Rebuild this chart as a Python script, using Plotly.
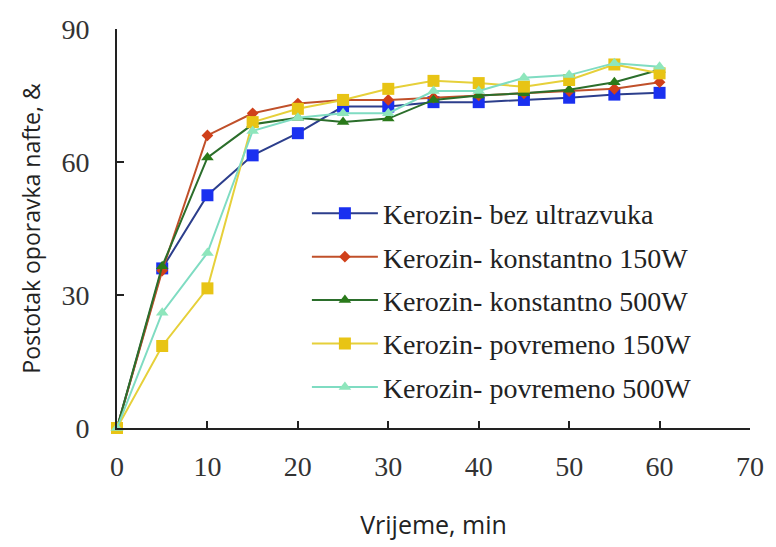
import plotly.graph_objects as go

time_min = [0, 5, 10, 15, 20, 25, 30, 35, 40, 45, 50, 55, 60]
bez_ultrazvuka = [0, 36, 52.5, 61.5, 66.5, 72.5, 72.5, 73.5, 73.5, 74, 74.5, 75.2, 75.6]
konstantno_150 = [0, 35.5, 66, 71, 73.2, 74, 74, 74.5, 75, 75.5, 76, 76.5, 78]
konstantno_500 = [0, 36.5, 61, 68.5, 70, 69, 69.8, 74, 75, 75.5, 76.3, 78, 80.8]
povremeno_150 = [0, 18.5, 31.5, 69, 72, 74, 76.5, 78.3, 77.8, 77, 78.5, 82, 80]
povremeno_500 = [0, 26, 39.5, 67, 70, 71, 71, 76, 76, 79, 79.6, 82.3, 81.5]

names = [
    "Kerozin- bez ultrazvuka",
    "Kerozin- konstantno 150W",
    "Kerozin- konstantno 500W",
    "Kerozin- povremeno 150W",
    "Kerozin- povremeno 500W",
]
x_ticks = [0, 10, 20, 30, 40, 50, 60, 70]
y_ticks = [0, 30, 60, 90]

series = [bez_ultrazvuka, konstantno_150, konstantno_500, povremeno_150, povremeno_500]
line_colors = ["#2c3e8c", "#c0502a", "#2b6e2b", "#e6d03a", "#7fdcc2"]
marker_colors = ["#1a30f0", "#d0401a", "#2a7a1a", "#e8c415", "#8ee6bc"]
symbols = ["square", "diamond", "triangle-up", "square", "triangle-up"]
sizes = [12, 9, 11, 12, 11]

fig = go.Figure()
for i, (ys, nm) in enumerate(zip(series, names)):
    fig.add_trace(go.Scatter(
        x=time_min, y=ys, name=nm, mode="lines+markers",
        line=dict(color=line_colors[i], width=2),
        marker=dict(color=marker_colors[i], symbol=symbols[i], size=sizes[i]),
        cliponaxis=False, legendgroup=str(i),
    ))

tick_font = dict(family="Liberation Serif", size=28, color="#333333")
fig.update_layout(
    width=776, height=547,
    margin=dict(l=117, r=15, t=29, b=112),
    paper_bgcolor="white", plot_bgcolor="white",
    showlegend=True,
    legend=dict(
        x=0.3, y=0.6, xanchor="left", yanchor="top",
        font=dict(family="Liberation Serif", size=28, color="#222222"),
        bgcolor="rgba(0,0,0,0)", itemwidth=66,
        traceorder="grouped", tracegroupgap=4,
    ),
)
fig.update_xaxes(
    range=[0, 70], tickvals=x_ticks, ticktext=[str(v) for v in x_ticks],
    showline=True, linecolor="#222222", linewidth=2,
    ticks="inside", ticklen=7, tickwidth=2, tickcolor="#222222",
    showgrid=False, zeroline=False, tickfont=tick_font,
    ticklabelstandoff=12,
    title=dict(text="Vrijeme, min", font=dict(family="Open Sans", size=25, color="#222222"), standoff=36),
)
fig.update_yaxes(
    range=[0, 90], tickvals=y_ticks, ticktext=[str(v) for v in y_ticks],
    showline=True, linecolor="#222222", linewidth=2,
    ticks="inside", ticklen=7, tickwidth=2, tickcolor="#222222",
    showgrid=False, zeroline=False, tickfont=tick_font,
    ticklabelstandoff=20,
    title=dict(text="Postotak oporavka nafte, &", font=dict(family="Open Sans", size=23, color="#222222"), standoff=14),
)

page_fix = (
    "document.documentElement.style.overflow='hidden';"
    "document.body.style.overflow='hidden';"
    "document.body.style.margin='0px';"
    "document.body.style.width='776px';"
    "document.body.style.height='547px';"
)
fig.write_html("out.html", config={"displayModeBar": False}, post_script=page_fix)
